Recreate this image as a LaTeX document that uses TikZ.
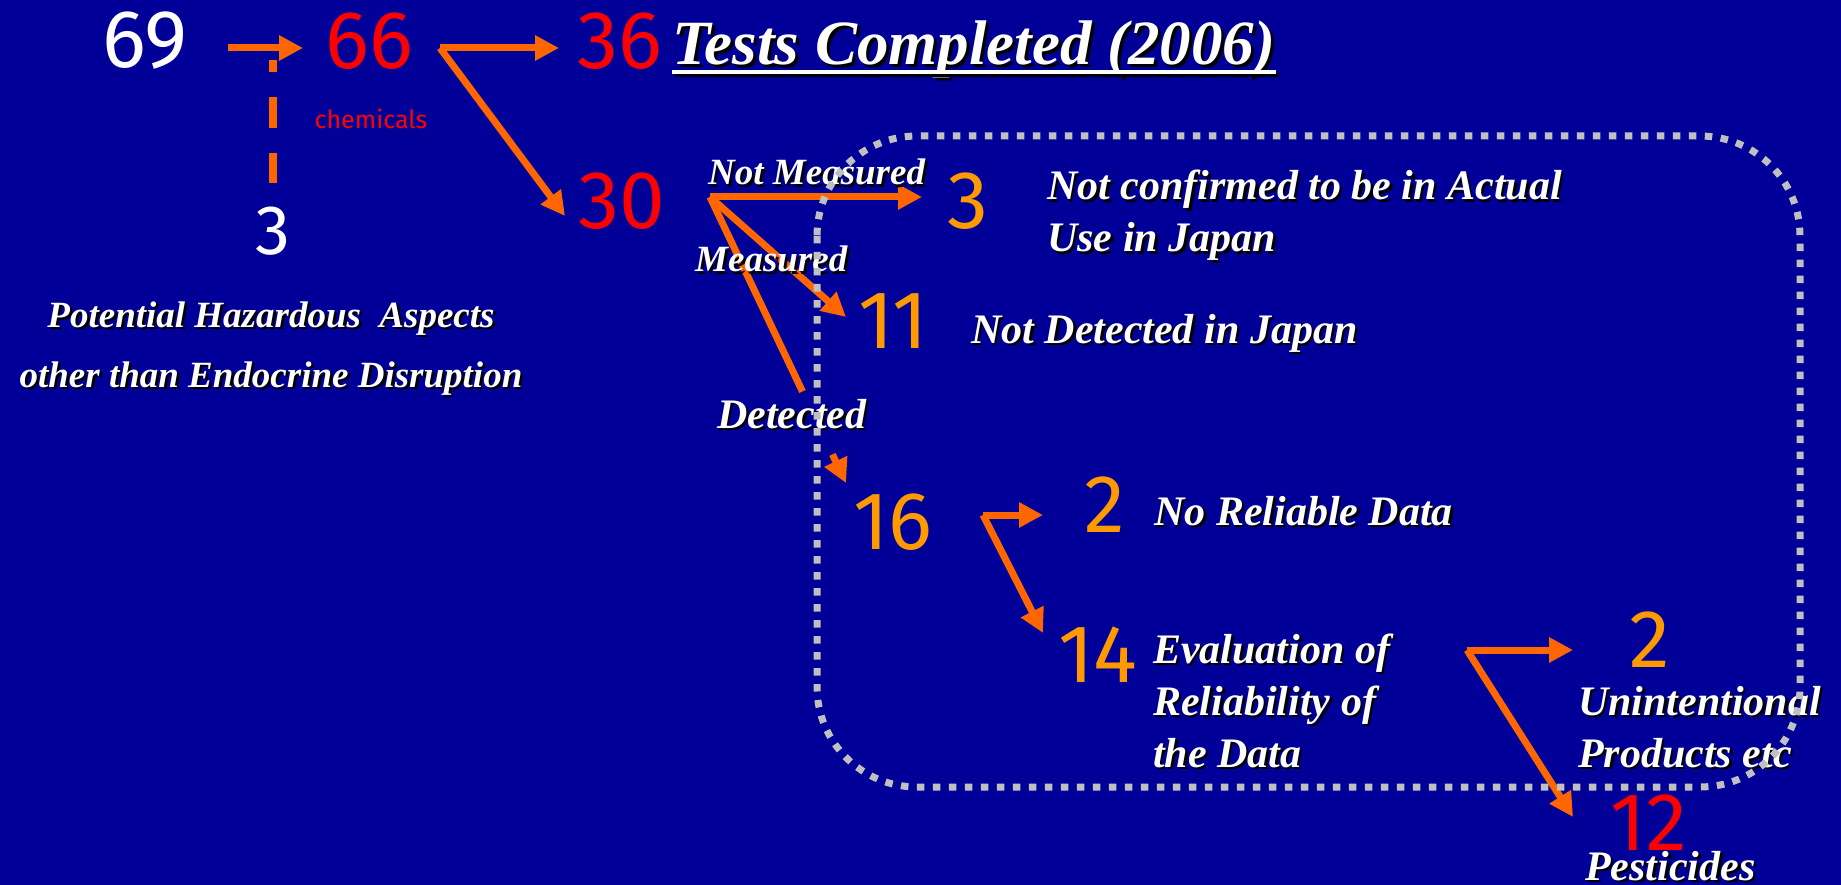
\documentclass[tikz,border=0pt]{standalone}
\usepackage{fontspec}
\setmainfont{Liberation Serif}
\newfontfamily\numfont{Fira Sans}
\usetikzlibrary{arrows.meta,calc}
\definecolor{bg}{HTML}{000099}
\definecolor{arrorange}{HTML}{FF6600}
\definecolor{numorange}{HTML}{FF9900}
\definecolor{numred}{HTML}{FF0000}
\definecolor{dotgray}{HTML}{C0C0C0}
\newcommand\shd[1]{\makebox[0pt][l]{\kern2.5pt\raisebox{-2.5pt}{\color{black}#1}}#1}
\newcommand\mylines[1]{\vtop{\baselineskip=52pt\lineskiplimit=-200pt #1}}
\tikzset{
  num/.style={font=\numfont\fontsize{82}{82}\selectfont, inner sep=0pt, anchor=center},
  lab/.style={font=\fontsize{42}{52}\selectfont\bfseries\itshape, text=white, inner sep=0pt, anchor=base west},
  smalllab/.style={font=\fontsize{37}{45}\selectfont\bfseries\itshape, text=white, inner sep=0pt, anchor=base west},
  arr/.style={draw=arrorange, line width=7pt, -{Triangle[length=24pt,width=24pt]}},
  plainline/.style={draw=arrorange, line width=7pt},
  dashline/.style={draw=arrorange, line width=8pt, dash pattern=on 12pt off 25pt on 31pt off 25pt on 31pt},
  dotbox/.style={draw=dotgray, line width=7pt, dash pattern=on 7.5pt off 8.5pt, rounded corners=100pt}
}
\begin{document}
\begin{tikzpicture}[x=1pt,y=-1pt]
\fill[bg] (0,0) rectangle (1841,885);
\useasboundingbox (0,0) rectangle (1841,885);

% numbers
\node[num,text=white] (n69) at (145,41) {69};
\node[num,text=numred] (n66) at (369,41) {66};
\node[num,text=numred] (n36) at (620,41) {36};
\node[num,text=white,font=\numfont\fontsize{70}{70}\selectfont] (n3w) at (273,231) {3};
\node[num,text=numred,font=\numfont\fontsize{25}{25}\selectfont] (chem) at (371,119) {chemicals};
\node[num,text=numred] (n30) at (622,201) {30};
\node[num,text=numorange] (n3o) at (968,201) {3};
\node[num,text=numorange] (n11) at (893,321) {11};
\node[num,text=numorange] (n16) at (893,522) {16};
\node[num,text=numorange] (n2a) at (1105,505) {2};
\node[num,text=numorange] (n14) at (1098,655) {14};
\node[num,text=numorange] (n2b) at (1650,640) {2};
\node[num,text=numred] (n12) at (1649,823) {12};

% branch points
\coordinate (v66) at ($(n66)+(71,7)$);
\coordinate (v30) at ($(n30)+(88,-4)$);
\coordinate (v16) at ($(n16)+(90,-7)$);
\coordinate (v14) at ($(n14)+(369,-5)$);
\coordinate (t16) at ($(n16)+(-47,-39)$);

% connectors
\draw[arr] ($(n69)+(83,7)$) -- ($(n66)+(-66,7)$);
\draw[dashline] ($(n3w)+(0,-171)$) -- ($(n3w)+(0,-48)$);
\draw[arr] (v66) -- ($(n36)+(-61,7)$);
\draw[arr] (v66) -- ($(n30)+(-57,15)$);
\draw[arr] (v30) -- ($(n3o)+(-46,-4)$);
\draw[arr] (v30) -- ($(n11)+(-47,-4)$);
\draw[plainline] (v30) -- ($(v30)!0.68!(t16)$);
\draw[arr] ($(v30)!0.9!(t16)$) -- (t16);
\draw[arr] (v16) -- ($(n2a)+(-62,10)$);
\draw[arr] (v16) -- ($(n14)+(-55,-22)$);
\draw[arr] (v14) -- ($(n2b)+(-77,10)$);
\draw[arr] (v14) -- ($(n12)+(-76,-6)$);

% title
\node[lab,font=\fontsize{63}{70}\selectfont\bfseries\itshape] (title) at (672,65)
  {\makebox[0pt][l]{\kern3pt\raisebox{-3pt}{\color{black}Tests Completed (2006)}}Tests Completed (2006)};
\draw[black,line width=3.5pt] ([xshift=3pt,yshift=-10pt]title.base west) -- ([xshift=3pt,yshift=-10pt]title.base east);
\draw[white,line width=3.5pt] ([yshift=-7pt]title.base west) -- ([yshift=-7pt]title.base east);

% labels
\node[smalllab,anchor=base] (hazard) at (271,327)
  {\vtop{\baselineskip=60pt\lineskiplimit=-200pt
    \hbox to 0pt{\hss\shd{Potential Hazardous\ \ Aspects}\hss}
    \hbox to 0pt{\hss\shd{other than Endocrine Disruption}\hss}}};
\node[smalllab] (notmeas) at (708,185) {\shd{Not Measured}};
\node[smalllab] (meas) at (695,272) {\shd{Measured}};
\node[lab] (det) at (717,428) {\shd{Detected}};
\node[lab] (notconf) at (1047,200)
  {\mylines{\hbox{\shd{Not confirmed to be in Actual}}\hbox{\shd{Use in Japan}}}};
\node[lab] (notdet) at (971,343) {\shd{Not Detected in Japan}};
\node[lab] (norel) at (1154,525) {\shd{No Reliable Data}};
\node[lab] (evalu) at (1153,663)
  {\mylines{\hbox{\shd{Evaluation of}}\hbox{\shd{Reliability of}}\hbox{\shd{the Data}}}};
\node[lab] (unint) at (1578,715)
  {\mylines{\hbox{\shd{Unintentional}}\hbox{\shd{Products etc}}}};
\node[lab] (pest) at (1585,880) {\shd{Pesticides}};

% dotted frame
\draw[dotbox] (817,136) rectangle (1800,787);
\end{tikzpicture}
\end{document}
